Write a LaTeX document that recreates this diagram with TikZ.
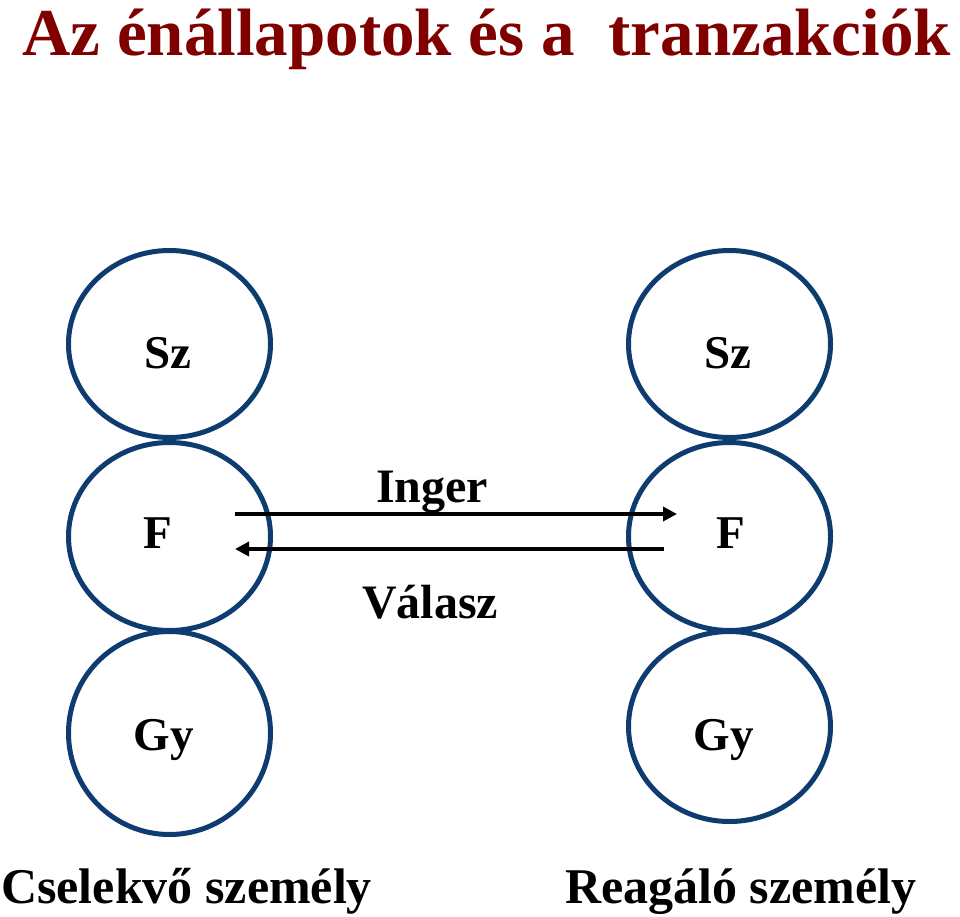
\documentclass[tikz,border=0pt]{standalone}
\usepackage{fontspec}
\setmainfont{Liberation Serif}
\usetikzlibrary{shapes.geometric,arrows.meta}
\definecolor{titlered}{RGB}{128,0,0}
\definecolor{ringblue}{RGB}{14,60,112}
\begin{document}
\begin{tikzpicture}[x=1pt,y=-1pt,
  ring/.style={draw=ringblue,line width=5pt,ellipse,inner sep=0pt,minimum width=202pt},
  letter/.style={anchor=base,font=\fontsize{47}{47}\selectfont\bfseries,inner sep=0pt},
  lbl/.style={anchor=base,font=\fontsize{48}{48}\selectfont\bfseries,inner sep=0pt},
  caption/.style={font=\fontsize{50}{50}\selectfont\bfseries,inner sep=0pt},
  flow/.style={line width=4pt,-{Triangle[length=14pt,width=14pt]}}]
\useasboundingbox (0,0) rectangle (960,916);
% title
\node[anchor=base west,inner sep=0pt,text=titlered,font=\fontsize{67}{67}\selectfont\bfseries] (title) at (22,55) {Az énállapotok és a\ \ tranzakciók};
% circles left
\node[ring,minimum height=187pt] (l1) at (169.5,344) {};
\node[ring,minimum height=188pt] (l2) at (169.5,536.5) {};
\node[ring,minimum height=203pt] (l3) at (169.5,733) {};
% circles right
\node[ring,minimum height=187pt] (r1) at (729.5,344) {};
\node[ring,minimum height=188pt] (r2) at (729.5,536.5) {};
\node[ring,minimum height=190pt] (r3) at (729.5,726.5) {};
% letters
\node[letter] (tl1) at (168,368) {Sz};
\node[letter] (tl2) at (158,548) {F};
\node[letter] (tl3) at (164,750) {Gy};
\node[letter] (tr1) at (728,368) {Sz};
\node[letter] (tr2) at (731,548) {F};
\node[letter] (tr3) at (724,750) {Gy};
% arrows
\coordinate (a1s) at (235,514);
\coordinate (a1e) at (677,514);
\coordinate (a2s) at (664,549);
\coordinate (a2e) at (235,549);
\draw[flow] (a1s) -- (a1e);
\draw[flow] (a2s) -- (a2e);
\node[lbl] (inger) at (432,502) {Inger};
\node[lbl] (valasz) at (430,618) {Válasz};
% captions
\node[caption,anchor=base west] (cap1) at (1,903) {Cselekvő személy};
\node[caption,anchor=base west] (cap2) at (565,903) {Reagáló személy};
\end{tikzpicture}
\end{document}
